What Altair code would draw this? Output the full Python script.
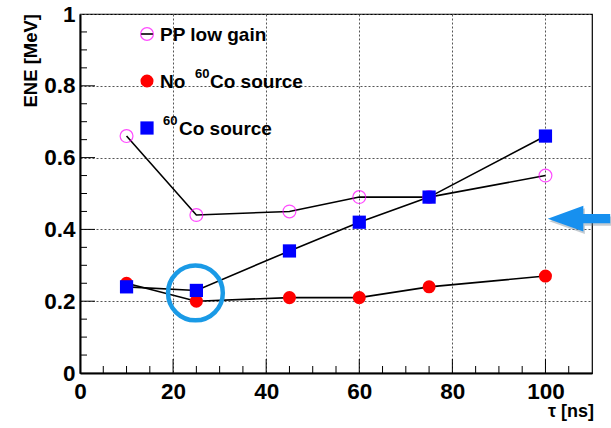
import altair as alt
import pandas as pd

# ---- data ----
tau = [10, 25, 45, 60, 75, 100]
pp_low_gain = [0.66, 0.44, 0.45, 0.49, 0.49, 0.55]
no_co = [0.25, 0.20, 0.21, 0.21, 0.24, 0.27]
co_source = [0.24, 0.23, 0.34, 0.42, 0.49, 0.66]

x_major = [0, 20, 40, 60, 80, 100]
y_major = [0, 0.2, 0.4, 0.6, 0.8, 1.0]
x_minor = [5, 10, 15, 25, 30, 35, 45, 50, 55, 65, 70, 75, 85, 90, 95, 105]
y_minor = [0.05, 0.1, 0.15, 0.25, 0.3, 0.35, 0.45, 0.5, 0.55, 0.65, 0.7, 0.75, 0.85, 0.9, 0.95]

highlight_x = [24.8]
highlight_y = [0.223]
arrow_x = [107.2]
arrow_y = [0.43]

FONT = "Liberation Sans"
W, H = 512, 359

df = pd.DataFrame({
    "tau": tau * 3,
    "ene": pp_low_gain + no_co + co_source,
    "series": ["PP low gain"] * 6 + ["No Co"] * 6 + ["Co source"] * 6,
})

xs = alt.Scale(domain=[0, 110], nice=False, zero=False)
ys = alt.Scale(domain=[0, 1], nice=False, zero=False)

x_axis = alt.Axis(values=x_major, format="d", ticks=False, grid=True,
                  gridDash=[2, 2], gridColor="#555", gridWidth=1,
                  domainColor="black", domainWidth=2, labelPadding=7,
                  title=None, labelFlush=False)
y_axis = alt.Axis(values=y_major, format="~g", ticks=False, grid=True,
                  gridDash=[2, 2], gridColor="#555", gridWidth=1,
                  domainColor="black", domainWidth=2, labelPadding=5,
                  title=None, labelFlush=False)

base = alt.Chart(df)

lines = base.mark_line(color="black", strokeWidth=1.6).encode(
    x=alt.X("tau:Q", scale=xs, axis=x_axis),
    y=alt.Y("ene:Q", scale=ys, axis=y_axis),
    detail="series:N",
)

def pts(name):
    return base.transform_filter(alt.datum.series == name)

pp_pts = pts("PP low gain").mark_point(shape="circle", filled=False, color="#ff00ff",
                                       size=165, strokeWidth=1.2).encode(
    x=alt.X("tau:Q", scale=xs), y=alt.Y("ene:Q", scale=ys))
no_pts = pts("No Co").mark_point(shape="circle", filled=True, color="#ff0000",
                                 size=170, opacity=1).encode(
    x=alt.X("tau:Q", scale=xs), y=alt.Y("ene:Q", scale=ys))
co_pts = pts("Co source").mark_point(shape="square", filled=True, color="#0000ff",
                                     size=175, opacity=1).encode(
    x=alt.X("tau:Q", scale=xs), y=alt.Y("ene:Q", scale=ys))

# inward ticks
xmin_df = pd.DataFrame({"v": x_minor})
xmaj_df = pd.DataFrame({"v": x_major[1:]})
ymin_df = pd.DataFrame({"v": y_minor})
ymaj_df = pd.DataFrame({"v": y_major[1:-1]})

xt_min = alt.Chart(xmin_df).mark_rule(color="black", strokeWidth=1).encode(
    x=alt.X("v:Q", scale=xs), y=alt.value(H), y2=alt.value(H - 7))
xt_maj = alt.Chart(xmaj_df).mark_rule(color="black", strokeWidth=1).encode(
    x=alt.X("v:Q", scale=xs), y=alt.value(H), y2=alt.value(H - 14))
yt_min = alt.Chart(ymin_df).mark_rule(color="black", strokeWidth=1).encode(
    y=alt.Y("v:Q", scale=ys), x=alt.value(0), x2=alt.value(7))
yt_maj = alt.Chart(ymaj_df).mark_rule(color="black", strokeWidth=1).encode(
    y=alt.Y("v:Q", scale=ys), x=alt.value(0), x2=alt.value(15))

# annotations
hl = alt.Chart(pd.DataFrame({"x": highlight_x, "y": highlight_y})).mark_point(
    shape="circle", filled=False, size=3000, color="#1a9ae6", strokeWidth=4.5,
    opacity=1).encode(x=alt.X("x:Q", scale=xs), y=alt.Y("y:Q", scale=ys))

arrow_path = "M -1 0 L 0.14 -0.41 L 0.14 -0.15 L 1 -0.15 L 1 0.15 L 0.14 0.15 L 0.14 0.41 Z"
arr_df = pd.DataFrame({"x": arrow_x, "y": arrow_y})
arrow_shadow = alt.Chart(arr_df).mark_point(
    shape=arrow_path, filled=True, size=3900, color="#6c7d8c", opacity=0.4,
    xOffset=1.5, yOffset=2.5, strokeWidth=0).encode(
    x=alt.X("x:Q", scale=xs), y=alt.Y("y:Q", scale=ys))
arrow = alt.Chart(arr_df).mark_point(
    shape=arrow_path, filled=True, size=3900, color="#1790ef", opacity=1,
    strokeWidth=0).encode(x=alt.X("x:Q", scale=xs), y=alt.Y("y:Q", scale=ys))

# legend (pixel layout inside the frame)
one = pd.DataFrame({"a": [0]})

def txt(s, x, y, size=19, **kw):
    return alt.Chart(one).mark_text(text=s, font=FONT, fontWeight="bold", fontSize=size,
                                    align=kw.pop("align", "left"), baseline=kw.pop("baseline", "alphabetic"),
                                    color="black", **kw).encode(x=alt.value(x), y=alt.value(y))

ox, oy = 80, 14
leg_line = alt.Chart(one).mark_rule(color="black", strokeWidth=1.6).encode(
    x=alt.value(141 - ox), x2=alt.value(153 - ox), y=alt.value(34 - oy))
leg_pp = alt.Chart(one).mark_point(shape="circle", filled=False, color="#ff00ff",
                                   size=165, strokeWidth=1.2).encode(
    x=alt.value(147 - ox), y=alt.value(34 - oy))
leg_no = alt.Chart(one).mark_point(shape="circle", filled=True, color="#ff0000",
                                   size=170, opacity=1).encode(
    x=alt.value(147 - ox), y=alt.value(81 - oy))
leg_co = alt.Chart(one).mark_point(shape="square", filled=True, color="#0000ff",
                                   size=175, opacity=1).encode(
    x=alt.value(147 - ox), y=alt.value(128 - oy))

legend = [
    leg_line, leg_pp, leg_no, leg_co,
    txt("PP low gain", 160 - ox, 41 - oy),
    txt("No", 160 - ox, 88 - oy),
    txt("60", 195 - ox, 78 - oy, size=13),
    txt("Co source", 210 - ox, 88 - oy),
    txt("60", 163 - ox, 125 - oy, size=13),
    txt("Co source", 179 - ox, 135 - oy),
]

titles = [
    txt("ENE [MeV]", 31 - ox, 14 - oy, size=18.5, angle=270, align="right", baseline="middle"),
    txt("τ [ns]", 594 - ox, 417 - oy, size=18, align="right"),
]

chart = alt.layer(
    lines, xt_min, xt_maj, yt_min, yt_maj, pp_pts, no_pts, co_pts,
    hl, arrow_shadow, arrow, *legend, *titles
).properties(
    width=W, height=H,
    autosize=alt.AutoSizeParams(type="none"),
    padding={"left": 80, "top": 14, "right": 19, "bottom": 55},
).configure_view(
    stroke="black", strokeWidth=1.2
).configure_axis(
    labelFont=FONT, labelFontSize=22.5, labelFontWeight="bold", labelColor="black",
)

chart.save("out.html", embed_options={"renderer": "svg", "actions": False})
